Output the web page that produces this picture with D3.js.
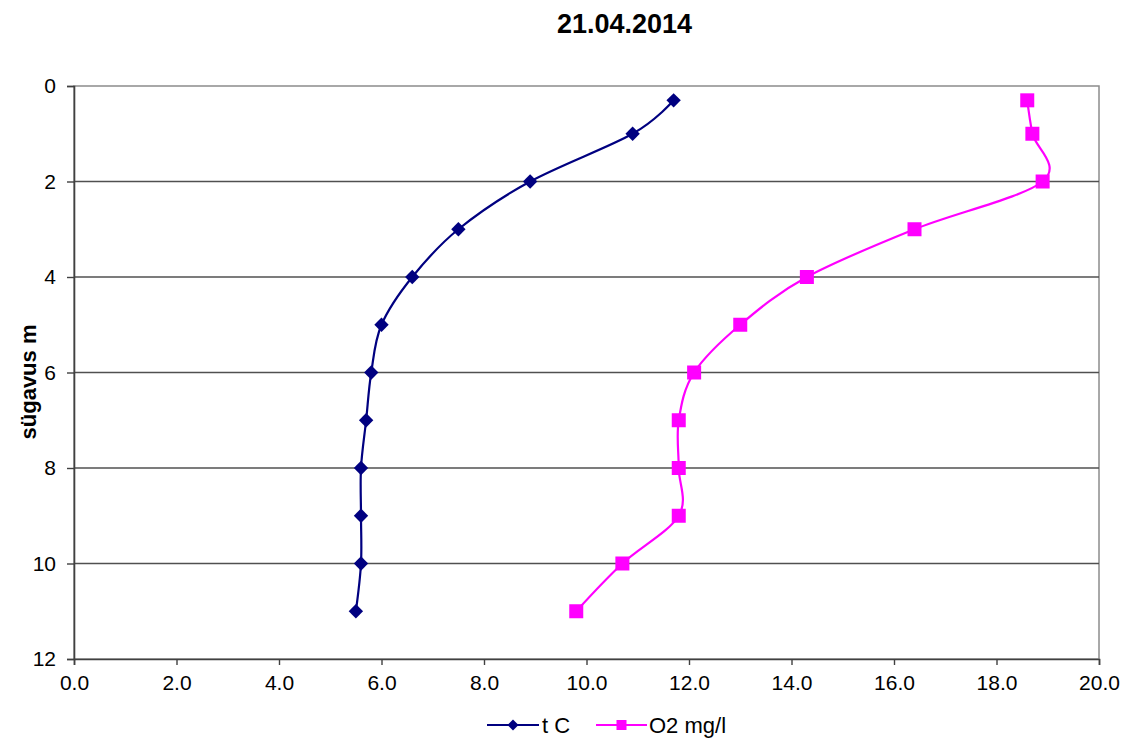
<!DOCTYPE html>
<html>
<head>
<meta charset="utf-8">
<script src="https://cdn.jsdelivr.net/npm/d3@7"></script>
<style>
  html, body { margin: 0; padding: 0; background: #fff; }
  svg { display: block; font-family: Arial, "Liberation Sans", sans-serif; }
</style>
</head>
<body>
<svg id="chart" width="1133" height="743"></svg>
<script>
// ---- data ----
const title = "21.04.2014";
const yTitle = "sügavus m";
const depths = [0.3, 1, 2, 3, 4, 5, 6, 7, 8, 9, 10, 11];
const tempC = [11.7, 10.9, 8.9, 7.5, 6.6, 6.0, 5.8, 5.7, 5.6, 5.6, 5.6, 5.5];
const oxygen = [18.6, 18.7, 18.9, 16.4, 14.3, 13.0, 12.1, 11.8, 11.8, 11.8, 10.7, 9.8];
const seriesNames = ["t C", "O2 mg/l"];
const xTicks = [0, 2, 4, 6, 8, 10, 12, 14, 16, 18, 20];
const yTicks = [0, 2, 4, 6, 8, 10, 12];

// ---- layout ----
const svg = d3.select("#chart");
const pL = 74, pR = 1099, pT = 86, pB = 659;
const x = d3.scaleLinear().domain([0, 20]).range([pL, pR]);
const y = d3.scaleLinear().domain([0, 12]).range([pT, pB]);

// plot border (top/right)
svg.append("rect")
  .attr("x", pL).attr("y", pT)
  .attr("width", pR - pL).attr("height", pB - pT)
  .attr("fill", "#fff").attr("stroke", "#8c8c8c").attr("stroke-width", 1.5);

// gridlines
svg.append("g").selectAll("line")
  .data(yTicks.filter(d => d > 0 && d < 12))
  .join("line")
  .attr("x1", pL).attr("x2", pR)
  .attr("y1", d => y(d)).attr("y2", d => y(d))
  .attr("stroke", "#505050").attr("stroke-width", 1.5);

// axes
const yAxis = svg.append("g")
  .attr("transform", `translate(${pL},0)`)
  .call(d3.axisLeft(y).tickValues(yTicks).tickSize(7).tickPadding(11).tickFormat(d3.format("d")));
const xAxis = svg.append("g")
  .attr("transform", `translate(0,${pB})`)
  .call(d3.axisBottom(x).tickValues(xTicks).tickSize(6).tickPadding(10).tickFormat(d3.format(".1f")));
[yAxis, xAxis].forEach(g => {
  g.select(".domain").attr("stroke", "#404040").attr("stroke-width", 1.6);
  g.selectAll(".tick line").attr("stroke", "#404040").attr("stroke-width", 1.4);
  g.selectAll(".tick text").attr("fill", "#000").style("font-size", "21px")
    .style("font-family", "Arial, 'Liberation Sans', sans-serif");
});

// title
svg.append("text")
  .attr("x", 624.5).attr("y", 32.5)
  .attr("text-anchor", "middle")
  .style("font-size", "27px").style("font-weight", "bold")
  .text(title);

// y-axis title
svg.append("text")
  .attr("transform", `translate(36,382) rotate(-90)`)
  .attr("text-anchor", "middle")
  .style("font-size", "22px").style("font-weight", "bold")
  .text(yTitle);

// series
const line = d3.line()
  .x(d => x(d[0])).y(d => y(d[1]))
  .curve(d3.curveCardinal.tension(0));

const tData = depths.map((d, i) => [tempC[i], d]);
const oData = depths.map((d, i) => [oxygen[i], d]);
const blue = "#000080", pink = "#ff00ff";

svg.append("path").datum(tData).attr("d", line)
  .attr("fill", "none").attr("stroke", blue).attr("stroke-width", 2.2);
svg.append("path").datum(oData).attr("d", line)
  .attr("fill", "none").attr("stroke", pink).attr("stroke-width", 2.2);

function diamondPath(r) { return `M0,${-r}L${r},0L0,${r}L${-r},0Z`; }

svg.append("g").selectAll("path").data(tData).join("path")
  .attr("transform", d => `translate(${x(d[0])},${y(d[1])})`)
  .attr("d", diamondPath(7.2))
  .attr("fill", blue);
svg.append("g").selectAll("rect").data(oData).join("rect")
  .attr("x", d => x(d[0]) - 7).attr("y", d => y(d[1]) - 7)
  .attr("width", 14).attr("height", 14)
  .attr("fill", pink);

// legend
const legY = 725;
const leg = svg.append("g");
const items = [
  { name: seriesNames[0], color: blue, x0: 487, x1: 539, tx: 542, shape: "diamond" },
  { name: seriesNames[1], color: pink, x0: 596, x1: 647, tx: 649, shape: "square" }
];
items.forEach(it => {
  leg.append("line").attr("x1", it.x0).attr("x2", it.x1)
    .attr("y1", legY).attr("y2", legY)
    .attr("stroke", it.color).attr("stroke-width", 2.2);
  const cx = (it.x0 + it.x1) / 2;
  if (it.shape === "diamond") {
    leg.append("path").attr("transform", `translate(${cx},${legY})`)
      .attr("d", diamondPath(5.5)).attr("fill", it.color);
  } else {
    leg.append("rect").attr("x", cx - 5).attr("y", legY - 5)
      .attr("width", 10).attr("height", 10).attr("fill", it.color);
  }
  leg.append("text").attr("x", it.tx).attr("y", legY + 8)
    .style("font-size", "22px").text(it.name);
});
</script>
</body>
</html>
